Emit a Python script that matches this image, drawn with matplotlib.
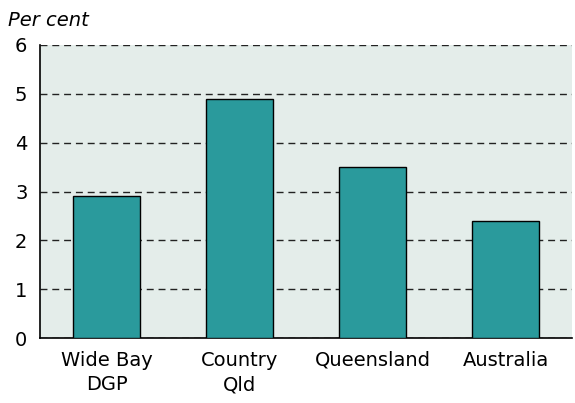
import numpy as np
import matplotlib
matplotlib.use("Agg")
import matplotlib.pyplot as plt

# Data
regions = ["Wide Bay\nDGP", "Country\nQld", "Queensland", "Australia"]
rates = [2.9, 4.9, 3.5, 2.4]
yticks = [0, 1, 2, 3, 4, 5, 6]

fig = plt.figure(figsize=(5.75, 4.03), dpi=100)
ax = fig.add_axes([40 / 575, 1 - 338 / 403, 532 / 575, 293 / 403])

ax.set_facecolor("#e4edea")
x = np.arange(len(regions))
ax.bar(x, rates, width=0.5, color="#2a9a9c", edgecolor="black", linewidth=1.0, zorder=3)

ax.set_xlim(-0.5, len(regions) - 0.5)
ax.set_ylim(0, 6)
ax.set_yticks(yticks)
ax.yaxis.grid(True, linestyle=(0, (5, 3.5)), color="#222222", linewidth=1.0, zorder=0)
ax.set_axisbelow(True)

ax.set_xticks(x)
ax.set_xticklabels(regions, fontsize=14, linespacing=1.4)
ax.tick_params(axis="y", labelsize=14, length=0, pad=9)
ax.tick_params(axis="x", length=0, pad=9)

for side in ["top", "right"]:
    ax.spines[side].set_visible(False)
ax.spines["left"].set_color("black")
ax.spines["left"].set_linewidth(1.2)
ax.spines["bottom"].set_color("black")
ax.spines["bottom"].set_linewidth(1.2)

fig.text(8 / 575, 1 - 21 / 403, "Per cent", fontsize=14, style="italic", va="center", ha="left")

fig.savefig("out.png", dpi=100)
